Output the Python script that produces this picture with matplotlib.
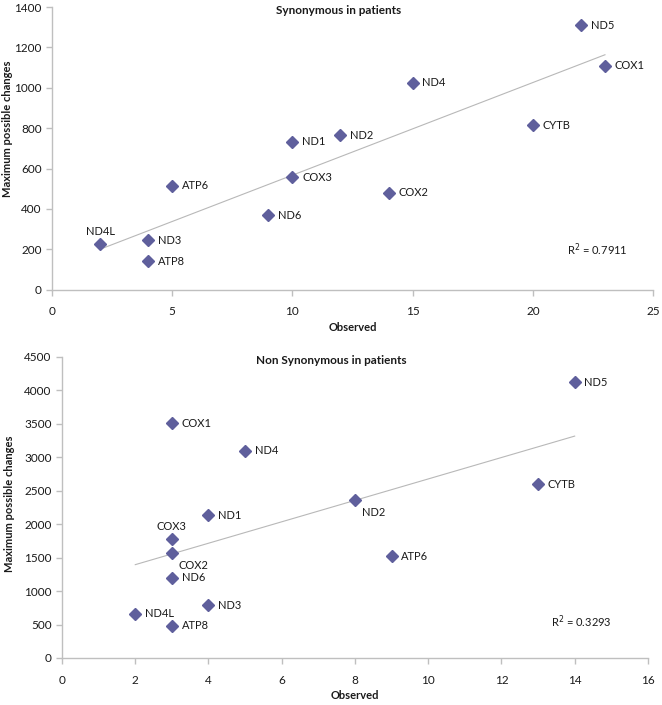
import matplotlib.pyplot as plt
import numpy as np

plt.rcParams['font.family'] = ['Lato', 'DejaVu Sans']

# synonymous changes in patients
syn_genes = ["ND5", "COX1", "ND4", "CYTB", "ND2", "ND1", "COX3", "ATP6", "COX2", "ND6", "ND4L", "ND3", "ATP8"]
syn_observed = [22, 23, 15, 20, 12, 10, 10, 5, 14, 9, 2, 4, 4]
syn_max = [1310, 1110, 1025, 815, 765, 732, 558, 516, 481, 368, 229, 245, 140]
syn_r2 = "0.7911"

# non synonymous changes in patients
nsyn_genes = ["ND5", "COX1", "ND4", "CYTB", "ND2", "ND1", "COX3", "COX2", "ATP6", "ND6", "ND3", "ND4L", "ATP8"]
nsyn_observed = [14, 3, 5, 13, 8, 4, 3, 3, 9, 3, 4, 2, 3]
nsyn_max = [4120, 3510, 3100, 2600, 2360, 2130, 1785, 1565, 1522, 1200, 790, 660, 480]
nsyn_r2 = "0.3293"

# label placement: "r" right, "t" above, "br" below right
syn_pos = {"ND4L": "t"}
nsyn_pos = {"COX3": "t", "COX2": "br", "ND2": "br"}

marker_color = "#5f5f9c"
axis_color = "#bfbfbf"
text_color = "#1a1a1a"


def draw_panel(ax, x, y, genes, pos, r2, xmax, xstep, ymax, ystep, r2_xy, ylab_xy):
    x = np.array(x, dtype=float)
    y = np.array(y, dtype=float)
    k, b = np.polyfit(x, y, 1)
    xs = np.array([x.min(), x.max()])
    ax.plot(xs, k * xs + b, color="#b8b8b8", lw=0.8, zorder=1)
    ax.plot(x, y, "D", ms=6.5, color=marker_color, mec=marker_color, zorder=3)

    for g, xi, yi in zip(genes, x, y):
        p = pos.get(g, "r")
        if p == "r":
            ax.annotate(g, (xi, yi), xytext=(7, 0), textcoords="offset points",
                        ha="left", va="center", fontsize=8, color=text_color)
        elif p == "t":
            ax.annotate(g, (xi, yi), xytext=(0, 5), textcoords="offset points",
                        ha="center", va="bottom", fontsize=8, color=text_color)
        else:
            ax.annotate(g, (xi, yi), xytext=(5, -5), textcoords="offset points",
                        ha="left", va="top", fontsize=8, color=text_color)

    ax.text(r2_xy[0], r2_xy[1], "R$^2$ = " + r2, fontsize=8, color=text_color,
            ha="left", va="center")

    ax.set_xlim(0, xmax)
    ax.set_ylim(0, ymax)
    ax.set_xticks(np.arange(0, xmax + 0.1, xstep))
    ax.set_yticks(np.arange(0, ymax + 1, ystep))
    for s in ["top", "right"]:
        ax.spines[s].set_visible(False)
    for s in ["left", "bottom"]:
        ax.spines[s].set_color(axis_color)
        ax.spines[s].set_linewidth(1.0)
    ax.tick_params(direction="out", length=4, width=1, color=axis_color,
                   labelsize=8.5, labelcolor=text_color)
    ax.tick_params(axis="x", pad=8)
    ax.set_xlabel("Observed", fontsize=8, fontweight="bold", color=text_color, labelpad=3)
    ax.set_ylabel("Maximum possible changes", fontsize=8, fontweight="bold", color=text_color)
    ax.yaxis.set_label_coords(*ylab_xy)


fig = plt.figure(figsize=(6.62, 7.05), dpi=100)
ax1 = fig.add_axes([0.0785, 0.589, 0.908, 0.401])
ax2 = fig.add_axes([0.0937, 0.0667, 0.885, 0.427])

draw_panel(ax1, syn_observed, syn_max, syn_genes, syn_pos,
           syn_r2, 25, 5, 1400, 200, (21.4, 198), (-0.065, 0.569))
draw_panel(ax2, nsyn_observed, nsyn_max, nsyn_genes, nsyn_pos,
           nsyn_r2, 16, 2, 4500, 500, (13.35, 538), (-0.080, 0.512))

fig.text(0.512, 1 - 11 / 705, "Synonymous in patients", fontsize=8.5, fontweight="bold",
         color=text_color, ha="center", va="center")
fig.text(0.5, 1 - 361 / 705, "Non Synonymous in patients", fontsize=8.5, fontweight="bold",
         color=text_color, ha="center", va="center")

fig.savefig("out.png", dpi=100)
